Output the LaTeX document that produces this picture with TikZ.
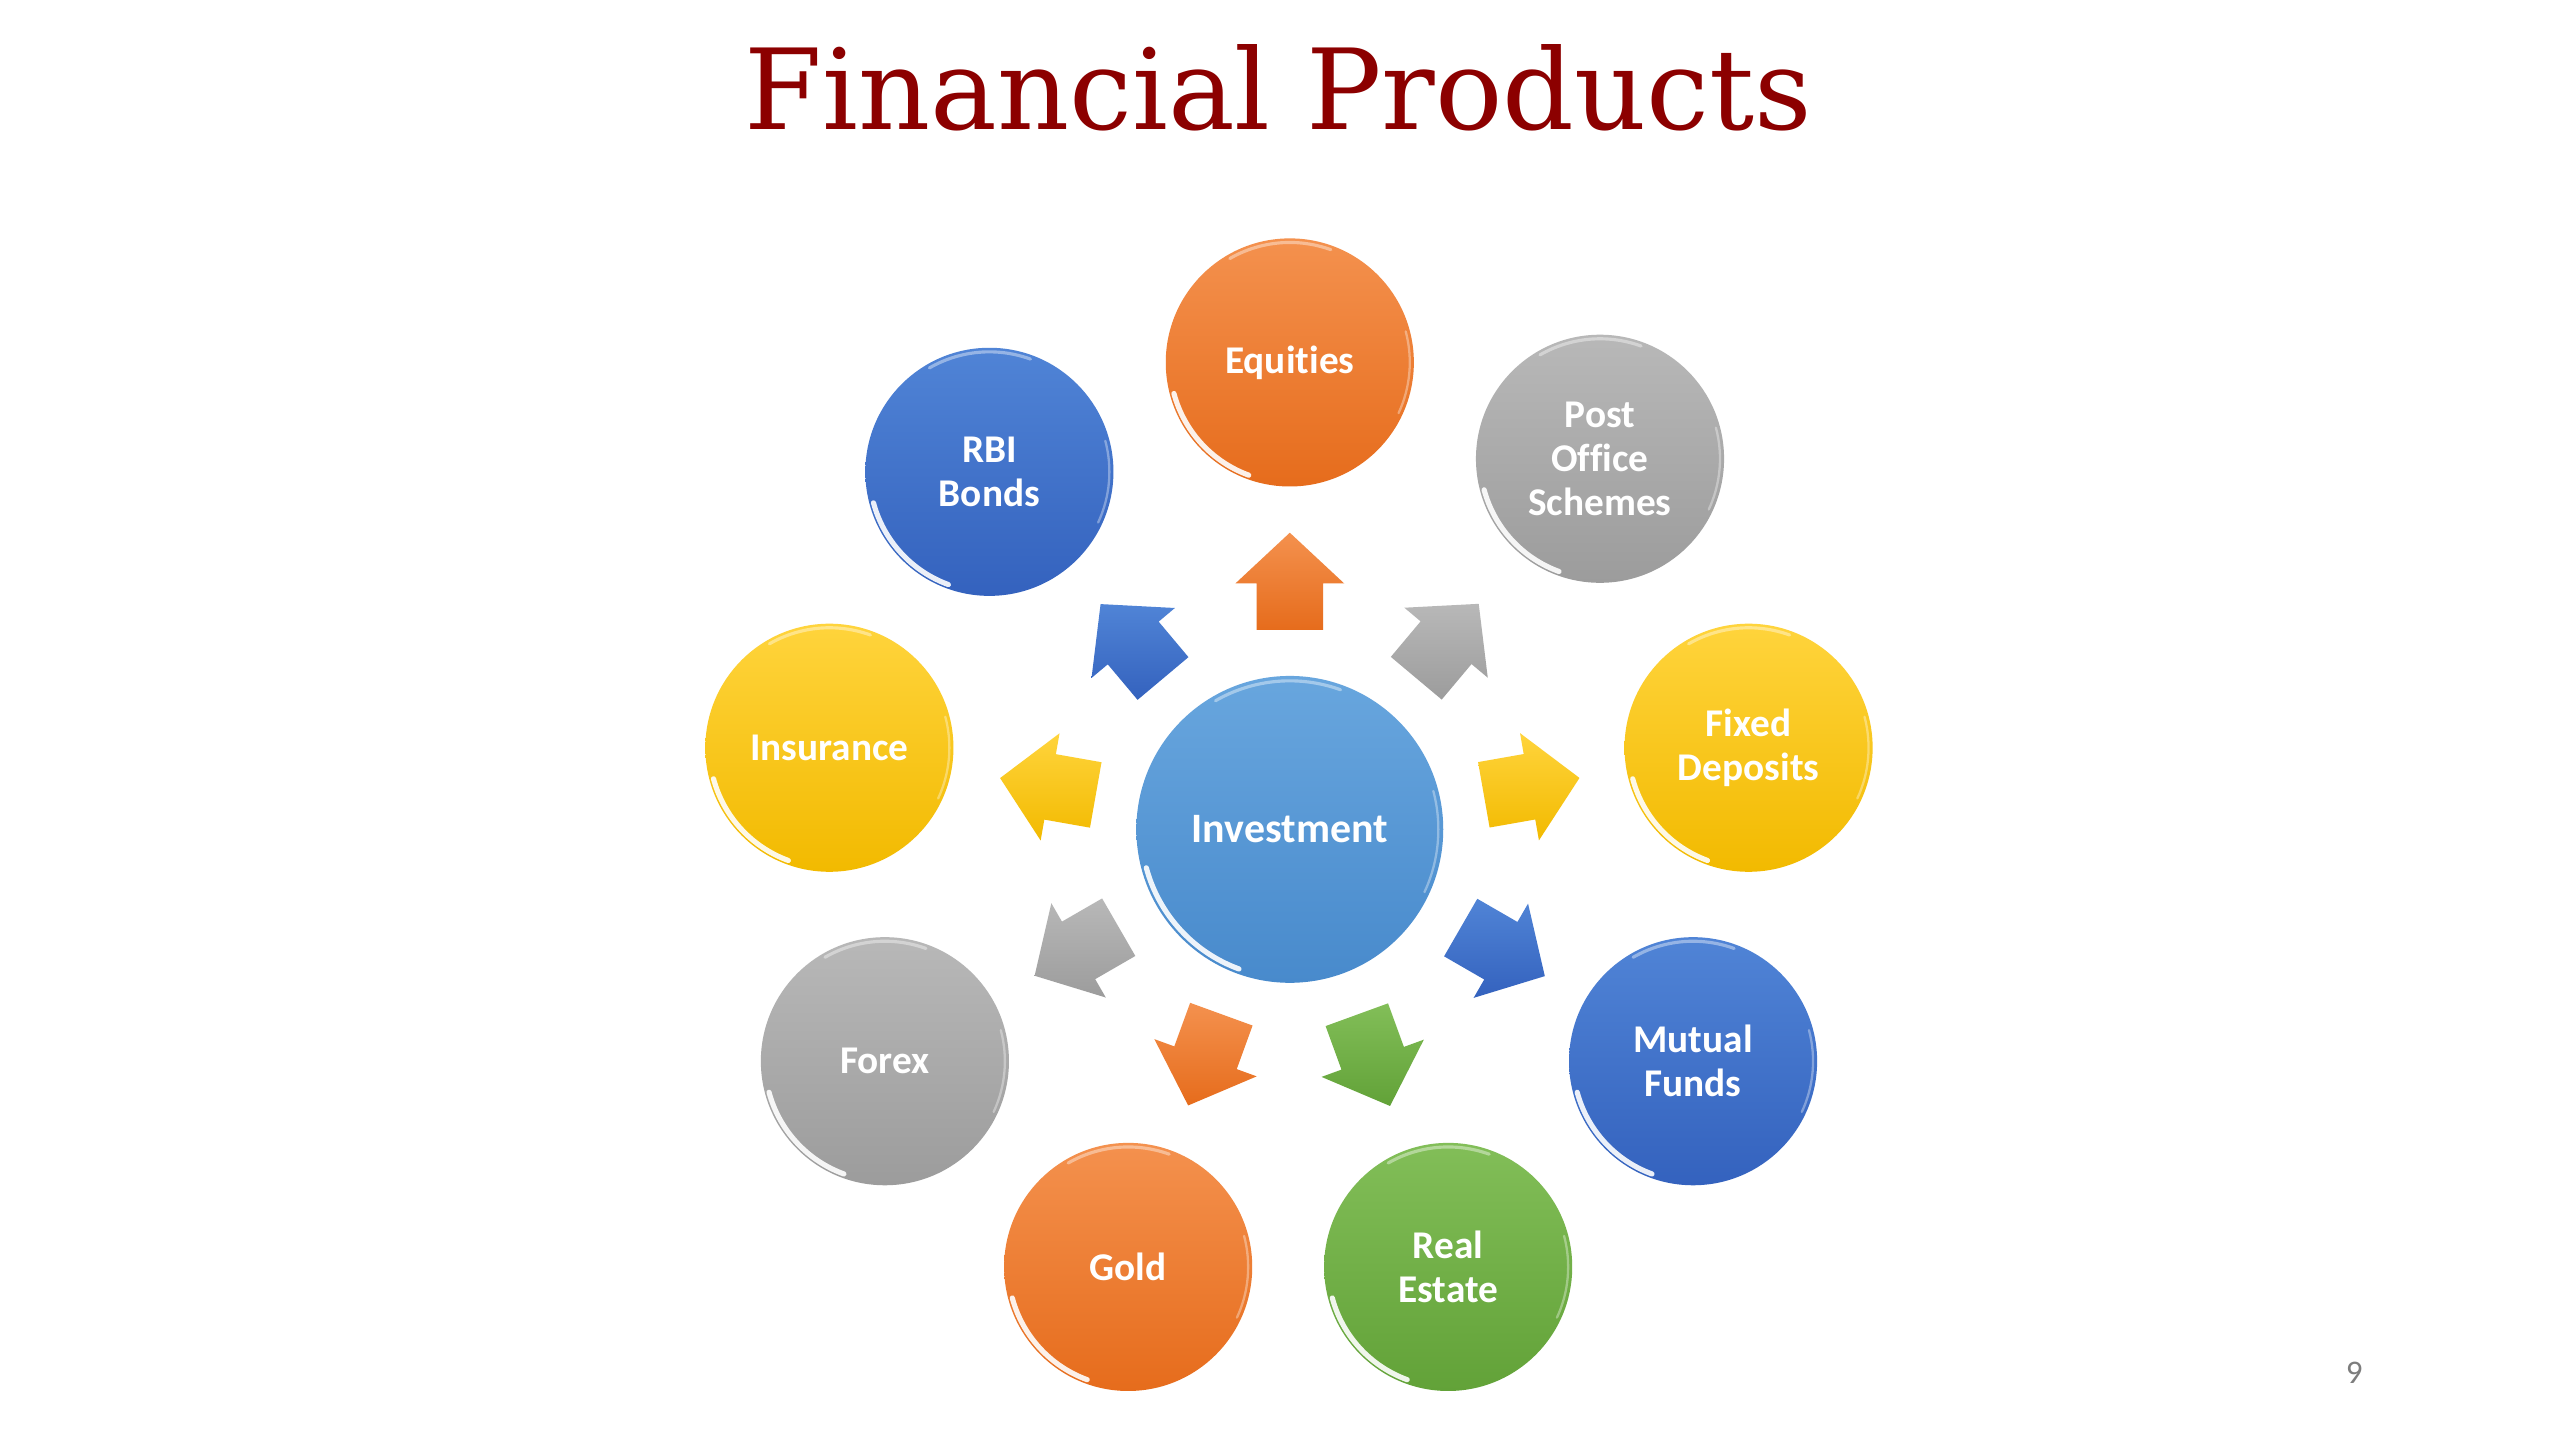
\documentclass[tikz,border=0pt]{standalone}
\usepackage{fontspec}
\newfontfamily\calib[Ligatures=NoCommon]{Carlito}
\newfontfamily\titlefont{DejaVu Serif}
\usetikzlibrary{shapes.arrows,calc}
\definecolor{titlered}{RGB}{140,0,0}
\definecolor{orA}{RGB}{244,145,78}
\definecolor{orB}{RGB}{230,108,28}
\definecolor{grA}{RGB}{184,184,184}
\definecolor{grB}{RGB}{156,156,156}
\definecolor{yeA}{RGB}{255,212,60}
\definecolor{yeB}{RGB}{242,186,0}
\definecolor{blA}{RGB}{80,132,214}
\definecolor{blB}{RGB}{52,98,190}
\definecolor{gnA}{RGB}{130,190,88}
\definecolor{gnB}{RGB}{98,162,56}
\definecolor{ivA}{RGB}{104,166,222}
\definecolor{ivB}{RGB}{72,138,204}
\definecolor{pgnum}{RGB}{125,125,125}
\newcommand{\glossarc}[2]{%
  \draw[white, opacity=.9, line width=1.8pt, line cap=round]
    ([shift={(195:#2)}]#1.center) arc[start angle=195,end angle=250,radius=#2];
  \draw[white, opacity=.4, line width=1.1pt, line cap=round]
    ([shift={(70:#2)}]#1.center) arc[start angle=70,end angle=120,radius=#2];
  \draw[white, opacity=.35, line width=0.8pt, line cap=round]
    ([shift={(-25:#2)}]#1.center) arc[start angle=-25,end angle=15,radius=#2];
}
\tikzset{
  circ/.style={circle, minimum size=3.04cm, inner sep=0pt, align=center,
    text=white, font=\calib\bfseries\fontsize{13.7}{15.4}\selectfont},
  orangeC/.style={circ, top color=orA, bottom color=orB},
  greyC/.style={circ, top color=grA, bottom color=grB},
  yellowC/.style={circ, top color=yeA, bottom color=yeB},
  blueC/.style={circ, top color=blA, bottom color=blB},
  greenC/.style={circ, top color=gnA, bottom color=gnB},
  centreC/.style={circle, minimum size=3.76cm, inner sep=0pt, text=white,
    top color=ivA, bottom color=ivB,
    font=\calib\bfseries\fontsize{14.6}{17}\selectfont},
  blockarrow/.style={single arrow, minimum height=1.19cm, inner xsep=0pt,
    inner ysep=0.4cm, single arrow head extend=0.26cm,
    single arrow tip angle=94},
  orangeA/.style={blockarrow, top color=orA, bottom color=orB},
  greyA/.style={blockarrow, top color=grA, bottom color=grB},
  yellowA/.style={blockarrow, top color=yeA, bottom color=yeB},
  blueA/.style={blockarrow, top color=blA, bottom color=blB},
  greenA/.style={blockarrow, top color=gnA, bottom color=gnB},
}
\begin{document}
\begin{tikzpicture}[x=0.02cm,y=0.02cm]
\useasboundingbox[fill=white] (0,0) rectangle (1568,882);

\node[text=titlered, anchor=base, inner sep=0pt] (title) at (783,802.4)
  {\resizebox{13.08cm}{\height}{\titlefont\fontsize{39}{45}\selectfont Financial Products}};

\node[centreC] (inv) at (790,374) {Investment};

\node[orangeC] (eq) at (790,660) {Equities};
\node[greyC]   (po) at (980,601) {Post\\Office\\Schemes};
\node[yellowC] (fd) at (1071,424) {Fixed\\Deposits};
\node[blueC]   (mf) at (1037,232) {Mutual\\Funds};
\node[greenC]  (re) at (887,106) {Real\\Estate};
\node[orangeC] (gd) at (691,106) {Gold};
\node[greyC]   (fx) at (542,232) {Forex};
\node[yellowC] (in) at (508,424) {Insurance};
\node[blueC]   (rb) at (606,593) {RBI\\Bonds};

\foreach \n in {eq,po,fd,mf,re,gd,fx,in,rb}{\glossarc{\n}{1.47cm}}
\glossarc{inv}{1.82cm}

\node[orangeA, rotate=90]   (aeq) at ($(inv)!2.85cm!(eq)$) {};
\node[greyA,   rotate=50]   (apo) at ($(inv)!2.82cm!(po)$) {};
\node[yellowA, rotate=10]   (afd) at ($(inv)!2.82cm!(fd)$) {};
\node[blueA,   rotate=-30]  (amf) at ($(inv)!2.82cm!(mf)$) {};
\node[greenA,  rotate=-70]  (are) at ($(inv)!2.82cm!(re)$) {};
\node[orangeA, rotate=-110] (agd) at ($(inv)!2.82cm!(gd)$) {};
\node[greyA,   rotate=-150] (afx) at ($(inv)!2.82cm!(fx)$) {};
\node[yellowA, rotate=170]  (ain) at ($(inv)!2.82cm!(in)$) {};
\node[blueA,   rotate=130]  (arb) at ($(inv)!2.82cm!(rb)$) {};

\node[font=\calib\fontsize{11.5}{13}\selectfont, text=pgnum] (pg) at (1442,41.4) {9};
\end{tikzpicture}
\end{document}
